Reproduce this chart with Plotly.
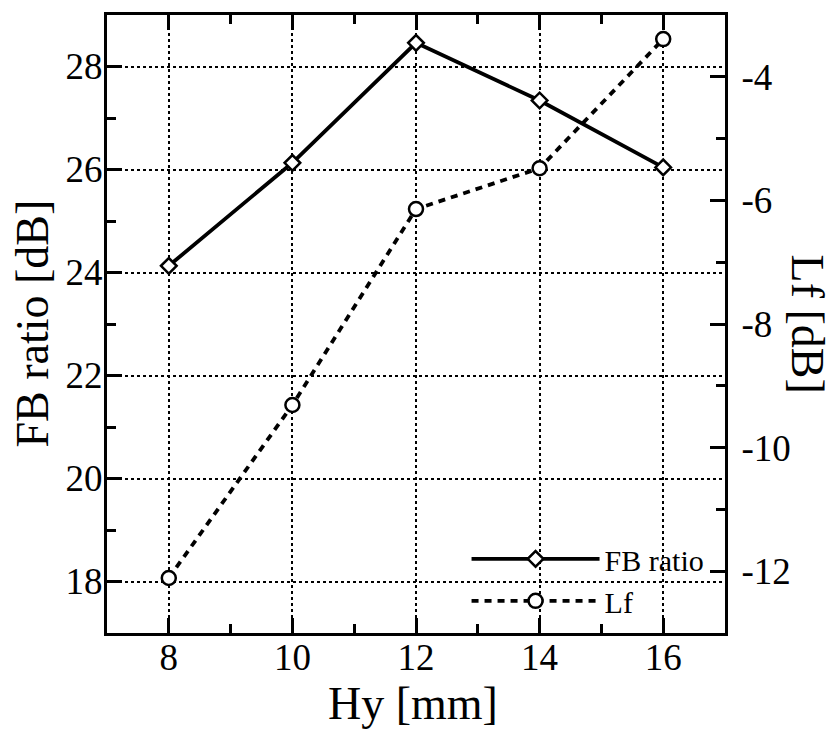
import plotly.graph_objects as go

hy = [8, 10, 12, 14, 16]
fb_ratio = [24.13, 26.13, 28.46, 27.34, 26.04]
lf = [-12.11, -9.31, -6.14, -5.48, -3.39]

x_ticks = [8, 10, 12, 14, 16]
fb_ticks = [18, 20, 22, 24, 26, 28]
lf_ticks = [-12, -10, -8, -6, -4]
lf_ticklabels = ["-12", "-10", "-8", "-6", "-4"]

FONT = "Liberation Serif"

fig = go.Figure()
fig.add_trace(go.Scatter(
    x=hy, y=fb_ratio, name="FB ratio", mode="lines+markers",
    line=dict(color="black", width=3.8),
    marker=dict(symbol="diamond", size=12, color="white",
                line=dict(color="black", width=2.5)),
))
fig.add_trace(go.Scatter(
    x=hy, y=lf, name="Lf", mode="lines+markers", yaxis="y2",
    line=dict(color="black", width=3.8, dash="7px,6px"),
    marker=dict(symbol="circle", size=14, color="white",
                line=dict(color="black", width=2.5)),
))

tickfont = dict(family=FONT, size=37, color="black")
common = dict(
    showline=True, linewidth=3, linecolor="black",
    ticks="inside", ticklen=15, tickwidth=3, tickcolor="black",
    tickfont=tickfont, zeroline=False, automargin=False,
)
minor = dict(ticks="inside", ticklen=9, tickwidth=3, tickcolor="black",
             dtick=1, tick0=0, showgrid=False)

fig.update_layout(
    width=835, height=729,
    margin=dict(l=107, r=110, t=15, b=96),
    paper_bgcolor="white", plot_bgcolor="white",
    font=dict(family=FONT, color="black"),
    xaxis=dict(
        range=[7, 17], tickvals=x_ticks, mirror="ticks",
        showgrid=True, gridcolor="black", gridwidth=1.5, griddash="3px,3px",
        minor=minor, ticklabelstandoff=-10,
        **common,
    ),
    yaxis=dict(
        range=[17, 29], tickvals=fb_ticks, mirror=False,
        showgrid=True, gridcolor="black", gridwidth=1.5, griddash="3px,3px",
        minor=minor, ticklabelstandoff=-6,
        **common,
    ),
    yaxis2=dict(
        overlaying="y", side="right",
        range=[-13, -3], tickvals=lf_ticks, ticktext=lf_ticklabels,
        showgrid=False, minor=minor, ticklabelstandoff=6,
        **common,
    ),
    legend=dict(
        x=0.975, y=0.01, xanchor="right", yanchor="bottom",
        bgcolor="rgba(0,0,0,0)", borderwidth=0,
        font=dict(family=FONT, size=30, color="black"),
        itemwidth=128, tracegroupgap=0,
    ),
    annotations=[
        dict(text="Hy [mm]", xref="paper", yref="paper", x=0.495, y=-0.114,
             xanchor="center", yanchor="middle", showarrow=False,
             font=dict(family=FONT, size=46, color="black")),
        dict(text="FB ratio [dB]", xref="paper", yref="paper", x=-0.122, y=0.5,
             xanchor="center", yanchor="middle", textangle=-90, showarrow=False,
             font=dict(family=FONT, size=46, color="black")),
        dict(text="Lf [dB]", xref="paper", yref="paper", x=1.135, y=0.5,
             xanchor="center", yanchor="middle", textangle=90, showarrow=False,
             font=dict(family=FONT, size=46, color="black")),
    ],
)

fig.write_html(
    "out.html",
    config={"displayModeBar": False},
    post_script="document.body.style.margin='0';document.body.style.overflow='hidden';",
)
